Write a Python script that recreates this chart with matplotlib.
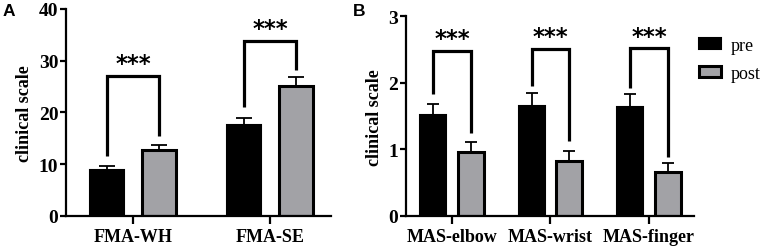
import matplotlib.pyplot as plt
import numpy as np

# data
fma_labels = ['FMA-WH', 'FMA-SE']
fma_pre = [8.8, 17.6]
fma_pre_err = [0.95, 1.4]
fma_post = [12.8, 25.1]
fma_post_err = [0.9, 1.7]
fma_bracket_top = [27.1, 33.8]
fma_bracket_left = [11.5, 21.0]
fma_bracket_right = [15.5, 28.2]

mas_labels = ['MAS-elbow', 'MAS-wrist', 'MAS-finger']
mas_pre = [1.52, 1.66, 1.63]
mas_pre_err = [0.16, 0.19, 0.20]
mas_post = [0.96, 0.82, 0.66]
mas_post_err = [0.15, 0.15, 0.14]
mas_bracket_top = [2.48, 2.51, 2.52]
mas_bracket_left = [1.83, 1.95, 1.92]
mas_bracket_right = [1.25, 1.12, 0.88]

gray = '#a2a2a6'
serif = 'Liberation Serif'

fig = plt.figure(figsize=(7.65, 2.53), dpi=100)
axA = fig.add_axes([0.0863, 0.1423, 0.3464, 0.8182])
axB = fig.add_axes([0.5307, 0.1423, 0.3765, 0.7893])


def draw_panel(ax, labels, pre, pre_err, post, post_err, top, left, right,
               off, width, capsize, ymax, yticks, star_gap):
    x = np.arange(len(labels))
    ax.bar(x - off, pre, width, color='black', edgecolor='black', linewidth=1.5,
           label='pre', zorder=2)
    ax.bar(x + off, post, width, color=gray, edgecolor='black', linewidth=2.2,
           label='post', zorder=2)
    ax.errorbar(x - off, pre, yerr=[np.zeros(len(pre)), pre_err], fmt='none',
                ecolor='black', elinewidth=1.3, capsize=capsize, capthick=1.3, zorder=1)
    ax.errorbar(x + off, post, yerr=[np.zeros(len(post)), post_err], fmt='none',
                ecolor='black', elinewidth=1.3, capsize=capsize, capthick=1.3, zorder=1)
    for i in range(len(labels)):
        ax.plot([x[i] - off, x[i] - off, x[i] + off, x[i] + off],
                [left[i], top[i], top[i], right[i]], color='black', lw=2.3,
                solid_joinstyle='miter', solid_capstyle='butt')
        ax.text(x[i], top[i] + star_gap, '***', ha='center', va='center',
                fontsize=16.5, fontweight='bold', family='DejaVu Sans')
    ax.set_ylim(0, ymax)
    ax.set_yticks(yticks)
    ax.set_xticks(x)
    ax.set_xticklabels(labels, fontfamily=serif, fontweight='bold', fontsize=13)
    for t in ax.get_yticklabels():
        t.set_fontfamily(serif)
        t.set_fontweight('bold')
        t.set_fontsize(14)
    ax.set_ylabel('clinical scale', fontfamily=serif, fontweight='bold', fontsize=13)
    ax.spines['top'].set_visible(False)
    ax.spines['right'].set_visible(False)
    ax.spines['left'].set_linewidth(1.6)
    ax.spines['bottom'].set_linewidth(1.6)
    ax.tick_params(axis='y', direction='out', length=4, width=1.6, pad=1.5)
    ax.tick_params(axis='x', direction='out', length=6, width=1.6, pad=3)


draw_panel(axA, fma_labels, fma_pre, fma_pre_err, fma_post, fma_post_err,
           fma_bracket_top, fma_bracket_left, fma_bracket_right,
           off=0.19, width=0.25, capsize=6, ymax=40, yticks=[0, 10, 20, 30, 40],
           star_gap=2.4)
axA.set_xlim(-0.49, 1.445)

draw_panel(axB, mas_labels, mas_pre, mas_pre_err, mas_post, mas_post_err,
           mas_bracket_top, mas_bracket_left, mas_bracket_right,
           off=0.19, width=0.264, capsize=4.5, ymax=3, yticks=[0, 1, 2, 3],
           star_gap=0.18)
axB.set_xlim(-0.467, 2.457)

axA.yaxis.set_label_coords(-0.125, 0.5)
axB.yaxis.set_label_coords(-0.08, 0.5)

axB.legend(loc='upper left', bbox_to_anchor=(0.9137, 0.85),
           bbox_transform=fig.transFigure, frameon=False,
           prop={'family': serif, 'size': 13}, handlelength=1.22, handleheight=0.5,
           labelspacing=0.6, handletextpad=0.55, borderaxespad=0, borderpad=0)

fig.text(0.004, 0.985, 'A', fontsize=12.5, fontweight='bold', family='Liberation Sans',
         ha='left', va='top')
fig.text(0.461, 0.985, 'B', fontsize=12.5, fontweight='bold', family='Liberation Sans',
         ha='left', va='top')

fig.savefig('out.png', dpi=100)
